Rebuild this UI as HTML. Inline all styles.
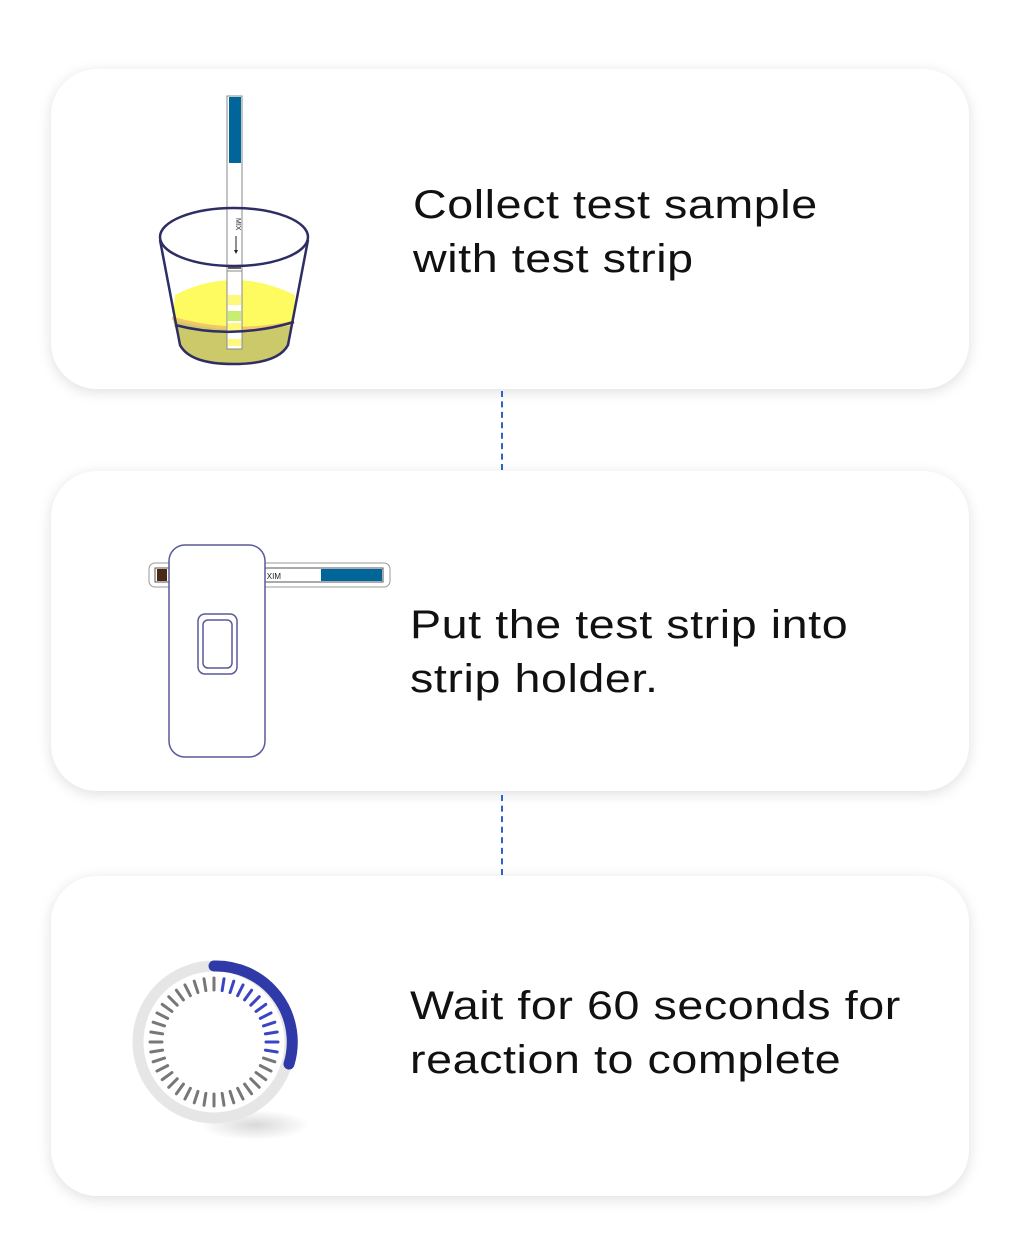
<!DOCTYPE html>
<html><head><meta charset="utf-8"><style>
body{margin:0;width:1011px;height:1251px;background:#fff;position:relative;overflow:hidden;font-family:"Liberation Sans",sans-serif}
.card{position:absolute;left:51px;width:918px;height:320px;background:#fff;border-radius:46px;box-shadow:0 3px 14px rgba(0,0,0,0.13)}
.t{position:absolute;font-size:40px;line-height:54px;color:#111;letter-spacing:0.5px;transform:scaleX(1.165);transform-origin:0 0;white-space:nowrap}
.dash{position:absolute;left:501px;width:0;border-left:2.5px dashed #2f62c8}
</style></head><body>
<div class="card" style="top:69px"></div>
<div class="card" style="top:471px"></div>
<div class="card" style="top:876px"></div>
<div class="dash" style="top:391px;height:79px"></div>
<div class="dash" style="top:795px;height:80px"></div>
<div class="t" style="left:413px;top:178px">Collect test sample<br>with test strip</div>
<div class="t" style="left:410px;top:598px">Put the test strip into<br>strip holder.</div>
<div class="t" style="left:410px;top:979px">Wait for 60 seconds for<br>reaction to complete</div>
<svg width="1011" height="1251" style="position:absolute;left:0;top:0">
<path d="M175 295 Q233 265 295 295 L293 325 Q233 335 173 320 Z" fill="#fdfb5f"/>
<path d="M173 320 Q233 335 293 325 L289 345 Q280 364 233 364 Q190 364 180 345 Z" fill="#ccc96a"/>
<path d="M172 318 Q233 336 294 322" stroke="#f5c56a" stroke-width="3" fill="none"/>
<rect x="227" y="96" width="15" height="176" fill="#fff" stroke="#888" stroke-width="1"/>
<rect x="229" y="97" width="12" height="66" fill="#006699"/>
<line x1="228" y1="268" x2="241" y2="268" stroke="#333" stroke-width="1.5"/>
<rect x="227" y="271" width="15" height="78" fill="#fff" stroke="#888" stroke-width="1"/>
<rect x="228" y="295" width="13" height="10" fill="#fef97a"/>
<rect x="228" y="311" width="13" height="10" fill="#c8ee70"/>
<rect x="228" y="323" width="13" height="8" fill="#fef97a"/>
<rect x="228" y="339" width="13" height="7" fill="#fef97a"/>
<text x="236" y="218" font-size="7" transform="rotate(90 236 218)" fill="#222">MIX</text>
<line x1="236" y1="236" x2="236" y2="252" stroke="#222"/>
<path d="M234 250 L236 254 L238 250Z" fill="#222"/>
<ellipse cx="234" cy="237" rx="74" ry="29" fill="none" stroke="#2e2d64" stroke-width="2.5"/>
<path d="M160 240 L180 345 Q190 364 233 364 Q278 364 288 345 L308 240" fill="none" stroke="#2e2d64" stroke-width="2.5"/>
<path d="M175 325 Q233 340 294 322" stroke="#2e2d64" stroke-width="2.5" fill="none"/>
<rect x="149" y="563" width="241" height="24" rx="6" fill="#fff" stroke="#999"/>
<rect x="155" y="568" width="228" height="14" fill="#fff" stroke="#555"/>
<rect x="157" y="569" width="10" height="12" fill="#4a2a12"/>
<rect x="321" y="569" width="61" height="12" fill="#006699"/>
<text x="265" y="579" font-size="8" fill="#222" transform="scale(-1,1) translate(-546,0)">MIX</text>
<rect x="169" y="545" width="96" height="212" rx="16" fill="#fff" stroke="#5a5a9a" stroke-width="1.5"/>
<rect x="198" y="614" width="39" height="60" rx="7" fill="#fff" stroke="#5a5a9a" stroke-width="1.5"/>
<rect x="203" y="620" width="29" height="48" rx="5" fill="#fff" stroke="#5a5a9a" stroke-width="1.5"/>
<defs><radialGradient id="sh"><stop offset="0" stop-color="#000" stop-opacity="0.15"/><stop offset="1" stop-color="#000" stop-opacity="0"/></radialGradient></defs>
<ellipse cx="255" cy="1125" rx="55" ry="15" fill="url(#sh)"/>
<circle cx="214" cy="1042" r="76" fill="#fff" stroke="#e6e6e6" stroke-width="11"/>
<path d="M214 966 A76 76 0 0 1 289 1064" fill="none" stroke="#2f39a8" stroke-width="11" stroke-linecap="round"/>
<g id="ticks"></g>
</svg>
<script>
var g=document.getElementById('ticks'),s='';
for(var i=0;i<40;i++){var a=i/40*2*Math.PI;var sx=Math.sin(a),cy=-Math.cos(a);
var c=(i>=1&&i<=11)?'#3b45c4':'#777';
s+='<line x1="'+(214+52*sx)+'" y1="'+(1042+52*cy)+'" x2="'+(214+64*sx)+'" y2="'+(1042+64*cy)+'" stroke="'+c+'" stroke-width="3" stroke-linecap="round"/>';}
g.innerHTML=s;
</script>
</body></html>
